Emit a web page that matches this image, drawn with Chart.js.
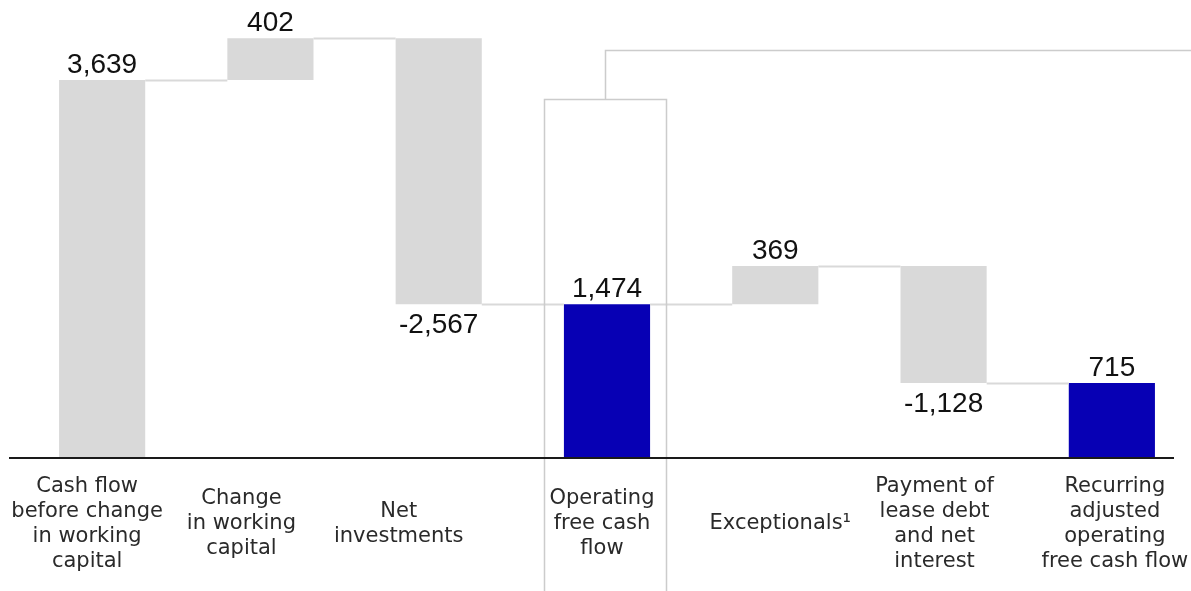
<!DOCTYPE html>
<html>
<head>
<meta charset="utf-8">
<script src="https://cdn.jsdelivr.net/npm/chart.js@4.4.1/dist/chart.umd.min.js"></script>
<style>
  html, body { margin: 0; padding: 0; background: #fff; overflow: hidden; }
</style>
</head>
<body>
<!-- a few px wider than the window: the last column runs off the right edge in the source -->
<canvas id="chart" width="1196" height="591"></canvas>
<script>
// categories (one array of lines per bar)
const categories = [
  ['Cash flow', 'before change', 'in working', 'capital'],
  ['Change', 'in working', 'capital'],
  ['Net', 'investments'],
  ['Operating', 'free cash', 'flow'],
  ['Exceptionals\u00b9'],
  ['Payment of', 'lease debt', 'and net', 'interest'],
  ['Recurring', 'adjusted', 'operating', 'free cash flow']
];
// change of each step (totals start from zero)
const changes = [3639, 402, -2567, 1474, 369, -1128, 715];
const isTotal = [true, false, false, true, false, false, true];
const highlight = [false, false, false, true, false, false, true];

// build floating bars from the running total
let running = 0;
const ranges = changes.map(function(v, i) {
  if (isTotal[i]) {
    running = v;
    return [0, v];
  }
  const start = running;
  running += v;
  return [start, running];
});

const GREY = '#d9d9d9';
const BLUE = '#0700b4';

// the text boxes in the source are not quite centred on the bars
const labelShift = [-15, -29, -40, -5, 5, -9, 3];

const decor = {
  id: 'decor',
  afterDraw(chart) {
    const ctx = chart.ctx;
    const xs = chart.scales.x;
    const ys = chart.scales.y;
    const bars = chart.getDatasetMeta(0).data;
    const area = chart.chartArea;
    const zeroY = ys.getPixelForValue(0);

    ctx.save();

    // connectors between steps
    ctx.strokeStyle = GREY;
    ctx.lineWidth = 2;
    for (let i = 0; i < bars.length - 1; i++) {
      const y = Math.round(ys.getPixelForValue(ranges[i][1])) + 0.5;
      ctx.beginPath();
      ctx.moveTo(bars[i].x + bars[i].width / 2, y);
      ctx.lineTo(bars[i + 1].x - bars[i + 1].width / 2, y);
      ctx.stroke();
    }

    // outline box around operating free cash flow + bracket to the right
    const cx = xs.getPixelForValue(3) - 2;
    const half = xs.width / categories.length * 0.363;
    const boxTop = area.top + 99.5;
    const bracketY = area.top + 50.5;
    ctx.strokeStyle = '#cccccc';
    ctx.lineWidth = 1.5;
    ctx.beginPath();
    ctx.moveTo(Math.round(cx - half) + 0.5, chart.height);
    ctx.lineTo(Math.round(cx - half) + 0.5, boxTop);
    ctx.lineTo(Math.round(cx + half) + 0.5, boxTop);
    ctx.lineTo(Math.round(cx + half) + 0.5, chart.height);
    ctx.moveTo(Math.round(cx) + 0.5, boxTop);
    ctx.lineTo(Math.round(cx) + 0.5, bracketY);
    ctx.lineTo(chart.width, bracketY);
    ctx.stroke();

    // baseline
    ctx.strokeStyle = '#1a1a1a';
    ctx.lineWidth = 2;
    ctx.beginPath();
    ctx.moveTo(area.left - 9, zeroY + 1);
    ctx.lineTo(area.right - 22, zeroY + 1);
    ctx.stroke();

    // value labels
    ctx.fillStyle = '#111';
    ctx.font = '28px "Liberation Sans", Arial, sans-serif';
    ctx.textAlign = 'center';
    ctx.textBaseline = 'alphabetic';
    changes.forEach(function(v, i) {
      const top = ys.getPixelForValue(Math.max(ranges[i][0], ranges[i][1]));
      const bottom = ys.getPixelForValue(Math.min(ranges[i][0], ranges[i][1]));
      const text = v.toLocaleString('en-US');
      if (v >= 0) {
        ctx.fillText(text, bars[i].x, top - 7);
      } else {
        ctx.fillText(text, bars[i].x, bottom + 29);
      }
    });

    // category labels, vertically centred under the axis
    ctx.fillStyle = '#2a2a2a';
    ctx.font = '21px "DejaVu Sans", sans-serif';
    ctx.textBaseline = 'middle';
    const lineH = 25;
    const midY = zeroY + 67;
    categories.forEach(function(lines, i) {
      const x = xs.getPixelForValue(i) + labelShift[i];
      const y0 = midY - (lines.length - 1) * lineH / 2;
      lines.forEach(function(line, j) {
        ctx.fillText(line, x, y0 + j * lineH);
      });
    });

    ctx.restore();
  }
};

new Chart(document.getElementById('chart'), {
  type: 'bar',
  data: {
    labels: categories,
    datasets: [
      {
        data: ranges,
        backgroundColor: highlight.map(function(h) { return h ? BLUE : GREY; }),
        borderWidth: 0,
        barPercentage: 0.512,
        categoryPercentage: 1
      }
    ]
  },
  options: {
    responsive: false,
    animation: false,
    layout: { padding: { left: 18, right: 0, top: 0, bottom: 0 } },
    plugins: {
      legend: { display: false },
      tooltip: { enabled: false }
    },
    scales: {
      x: {
        grid: { display: false },
        border: { display: false },
        ticks: { display: false },
        afterFit: function(scale) { scale.height = 134; }
      },
      y: { display: false, min: 0, max: 4411 }
    }
  },
  plugins: [decor]
});
</script>
</body>
</html>
